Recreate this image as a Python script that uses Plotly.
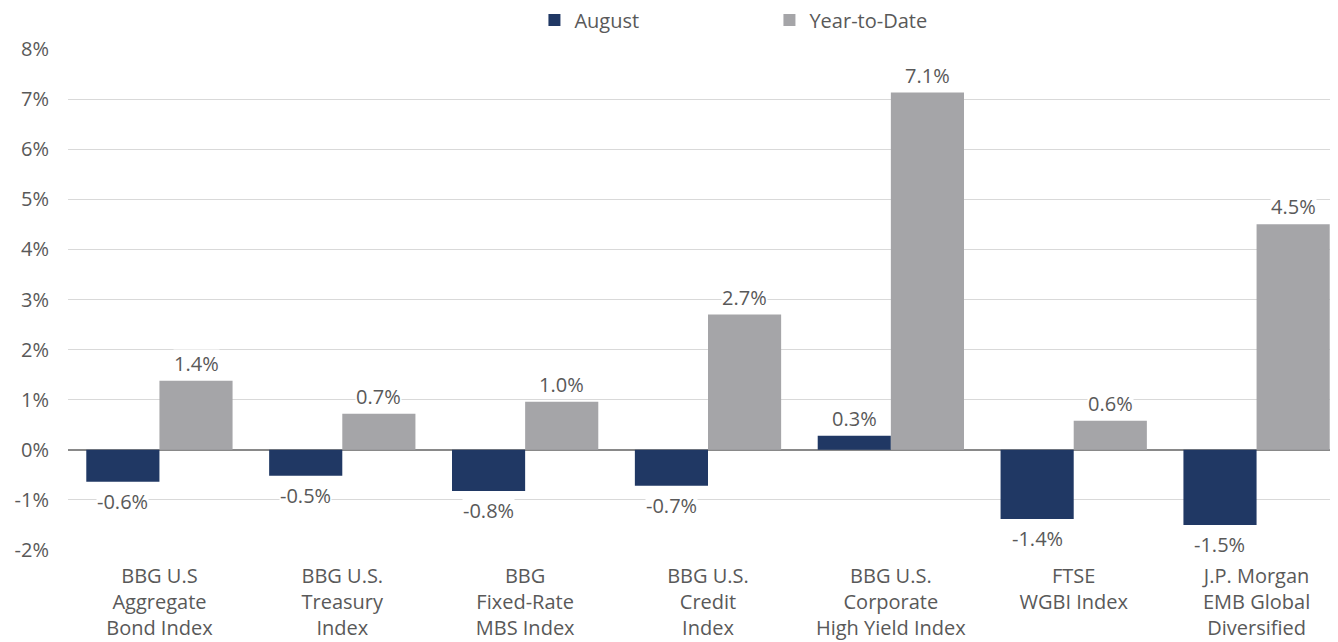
import plotly.graph_objects as go

categories = [
    "BBG U.S<br>Aggregate<br>Bond Index",
    "BBG U.S.<br>Treasury<br>Index",
    "BBG<br>Fixed-Rate<br>MBS Index",
    "BBG U.S.<br>Credit<br>Index",
    "BBG U.S.<br>Corporate<br>High Yield Index",
    "FTSE<br>WGBI Index",
    "J.P. Morgan<br>EMB Global<br>Diversified",
]
august = [-0.64, -0.52, -0.82, -0.72, 0.28, -1.38, -1.50]
ytd = [1.38, 0.72, 0.96, 2.70, 7.13, 0.58, 4.50]
y_ticks = [-2, -1, 0, 1, 2, 3, 4, 5, 6, 7, 8]
y_tick_labels = [f"{v}%" for v in y_ticks]

NAVY = "#203864"
GRAY = "#A5A5A8"
TXT = "#595959"
FONT = "'Open Sans', Lato, sans-serif"
FS = 20

fig = go.Figure()
fig.add_trace(go.Bar(name="August", x=categories, y=august, marker_color=NAVY,
                     marker_line_width=0))
fig.add_trace(go.Bar(name="Year-to-Date", x=categories, y=ytd, marker_color=GRAY,
                     marker_line_width=0))

BAR_HALF = 36.6
annotations = []
for series, shift in ((august, -BAR_HALF), (ytd, BAR_HALF)):
    for cat, v in zip(categories, series):
        annotations.append(dict(
            x=cat, y=v, xref="x", yref="y", xshift=shift,
            yshift=3 if v >= 0 else -5,
            yanchor="bottom" if v >= 0 else "top",
            text=f"{v:.1f}%", showarrow=False,
            font=dict(family=FONT, size=FS, color=TXT),
            bgcolor="white", borderpad=0,
        ))

fig.update_layout(
    width=1340, height=642,
    margin=dict(l=60, r=0, t=41, b=100, autoexpand=False),
    paper_bgcolor="white", plot_bgcolor="white",
    barmode="group", bargap=0.2, bargroupgap=0,
    font=dict(family=FONT, size=FS, color=TXT),
    showlegend=True,
    legend=dict(orientation="h", x=0.548, xanchor="center",
                y=1 - 12 / 642, yanchor="middle", yref="container",
                font=dict(family=FONT, size=FS, color=TXT),
                entrywidth=190, entrywidthmode="pixels",
                itemclick=False, itemdoubleclick=False),
    annotations=annotations,
)
fig.update_yaxes(range=[-2, 8], tickvals=y_ticks, ticktext=y_tick_labels,
                 showgrid=True, gridcolor="#D9D9D9", gridwidth=1,
                 zeroline=True, zerolinecolor="#898989", zerolinewidth=2,
                 showline=False, ticks="", ticklabelstandoff=18,
                 tickfont=dict(family=FONT, size=FS, color=TXT), automargin=False)
fig.update_xaxes(showgrid=False, showline=False, ticks="", ticklabelstandoff=12,
                 tickfont=dict(family=FONT, size=FS, color=TXT), automargin=False)

fig.write_html("out.html")
